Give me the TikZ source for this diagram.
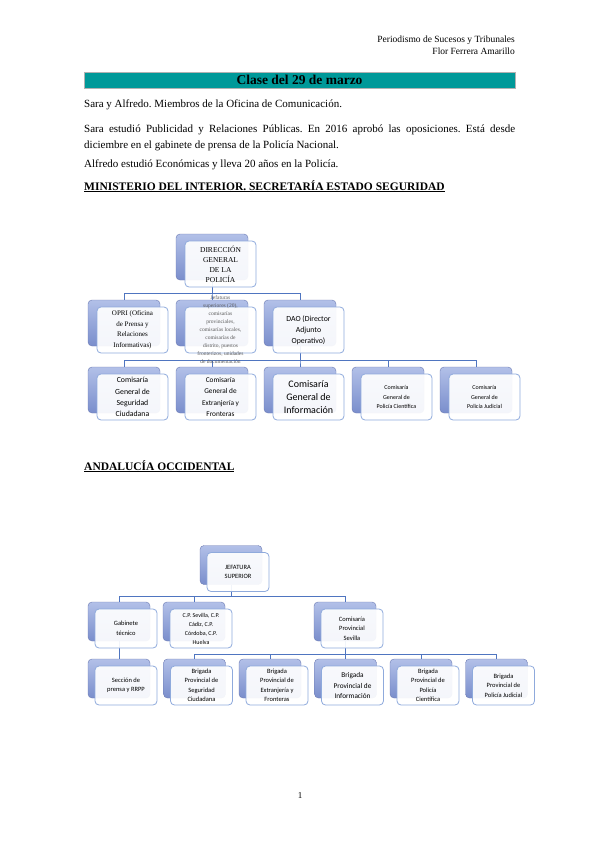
\documentclass[tikz,border=0pt]{standalone}
\usepackage{fontspec}
\setmainfont{Liberation Serif}
\newfontfamily\boxfont{Carlito}
\usepackage{xcolor}
\usepackage{tikz}
\usetikzlibrary{positioning, calc, backgrounds}
\frenchspacing
\definecolor{titleteal}{RGB}{0,153,153}
\definecolor{linkblue}{RGB}{79,117,192}
\definecolor{backtop}{RGB}{178,192,232}
\definecolor{backbot}{RGB}{122,142,204}
\definecolor{backedge}{RGB}{108,122,178}
\definecolor{frontedge}{RGB}{143,170,220}
\tikzstyle{backbox} = [draw=backedge, top color=backtop, bottom color=backbot, rounded corners=4pt, inner sep=0pt]
\tikzstyle{bigback} = [backbox, minimum width=72pt, minimum height=46pt]
\tikzstyle{smallback} = [backbox, minimum width=62pt, minimum height=39pt]
\tikzstyle{frontbox} = [draw=frontedge, line width=0.8pt, fill=white, fill opacity=0.92, text opacity=1, rounded corners=4pt, inner sep=1pt, align=center]
\tikzstyle{bigfront} = [frontbox, minimum width=71pt, minimum height=46pt, xshift=8.5pt, yshift=-7pt]
\tikzstyle{smallfront} = [frontbox, minimum width=62pt, minimum height=39pt, xshift=7pt, yshift=-7pt]
\tikzstyle{link} = [draw=linkblue, line width=0.8pt]
\tikzstyle{bodyline} = [anchor=base west, inner sep=0pt, font=\fontsize{11}{13}\selectfont]
\tikzstyle{heading} = [anchor=base west, inner sep=0pt, font=\fontsize{11.5}{13}\selectfont\bfseries]

\begin{document}
\begin{tikzpicture}[x=1pt, y=-1pt]
\useasboundingbox (0,0) rectangle (599,848);

% Header
\node[anchor=base east, inner sep=0pt, font=\fontsize{9.5}{11}\selectfont] (course) at (515,43) {Periodismo de Sucesos y Tribunales};
\node[anchor=base east, inner sep=0pt, font=\fontsize{9.5}{11}\selectfont] (author) at (515,55) {Flor Ferrera Amarillo};

% Title bar
\draw[fill=titleteal, draw=gray!60] (84,72) rectangle (515,88);
\node[font=\fontsize{13.5}{15}\selectfont\bfseries] (title) at (299.5,80) {Clase del 29 de marzo};

% Text
\node[bodyline] (line1) at (84,107.5) {Sara y Alfredo. Miembros de la Oficina de Comunicación.};
\node[bodyline] (line2) at (84,132.5) {\makebox[431pt][s]{Sara estudió Publicidad y Relaciones Públicas. En 2016 aprobó las oposiciones. Está desde}};
\node[bodyline] (line3) at (84,148.5) {diciembre en el gabinete de prensa de la Policía Nacional.};
\node[bodyline] (line4) at (84,167.5) {Alfredo estudió Económicas y lleva 20 años en la Policía.};
\node[heading] (head1) at (84,190) {\underline{MINISTERIO DEL INTERIOR. SECRETARÍA ESTADO SEGURIDAD}};

% Chart 1, back boxes
\node[bigback] (dgpb) at (212,257) {};
\node[bigback] (oprib) at (124,323) {};
\node[bigback] (jefb) at (212,323) {};
\node[bigback] (daob) at (300,323) {};
\node[bigback] (segb) at (124,390) {};
\node[bigback] (extb) at (212,390) {};
\node[bigback] (infb) at (300,390) {};
\node[bigback] (cieb) at (388,390) {};
\node[bigback] (judb) at (476,390) {};

% Chart 1, front boxes
\node[bigfront, font=\fontsize{7.5}{10}\selectfont] (dgp) at (dgpb) {DIRECCIÓN\\GENERAL\\DE LA\\POLICÍA};
\node[bigfront, font=\fontsize{7}{10.5}\selectfont] (opri) at (oprib) {OPRI (Oficina\\de Prensa y\\Relaciones\\Informativas)};
\node[bigfront] (jef) at (jefb) {};
\node[align=center, text=gray!70!black, font=\fontsize{5.5}{8}\selectfont] (jeftext) at (jef) {Jefaturas\\superiores (20),\\comisarías\\provinciales,\\comisarías locales,\\comisarías de\\distrito, puestos\\fronterizos, unidades\\de documentación};
\node[bigfront, font=\boxfont\fontsize{7.8}{11}\selectfont] (dao) at (daob) {DAO (Director\\Adjunto\\Operativo)};
\node[bigfront, font=\boxfont\fontsize{7.8}{11.3}\selectfont] (seg) at (segb) {Comisaría\\General de\\Seguridad\\Ciudadana};
\node[bigfront, font=\boxfont\fontsize{7.3}{11.3}\selectfont] (ext) at (extb) {Comisaría\\General de\\Extranjería y\\Fronteras};
\node[bigfront, font=\boxfont\fontsize{10}{13}\selectfont] (inf) at (infb) {Comisaría\\General de\\Información};
\node[bigfront, font=\boxfont\fontsize{6}{9.5}\selectfont] (cie) at (cieb) {Comisaría\\General de\\Policía Científica};
\node[bigfront, font=\boxfont\fontsize{6}{9.5}\selectfont] (jud) at (judb) {Comisaría\\General de\\Policía Judicial};

% Chart 1, connectors
\begin{scope}[on background layer]
\foreach \c in {oprib, jefb, daob}
  \draw[link] (dgpb.south) -- ++(0,13) -| (\c.north);
\foreach \c in {segb, extb, infb, cieb, judb}
  \draw[link] (daob.south) -- ++(0,14) -| (\c.north);
\end{scope}

% Second heading
\node[heading] (head2) at (84,470) {\underline{ANDALUCÍA OCCIDENTAL}};

% Chart 2, back boxes
\node[smallback] (jsb) at (231,565) {};
\node[smallback] (gabb) at (119,621.5) {};
\node[smallback] (cpb) at (194,621.5) {};
\node[smallback] (cpsb) at (345,621.5) {};
\node[smallback] (secb) at (119,678.5) {};
\node[smallback] (bsegb) at (194.5,678.5) {};
\node[smallback] (bextb) at (270,678.5) {};
\node[smallback] (binfb) at (345.5,678.5) {};
\node[smallback] (bcieb) at (421,678.5) {};
\node[smallback] (bjudb) at (496.5,678.5) {};

% Chart 2, front boxes
\begin{scope}[font=\boxfont\fontsize{6.5}{9.5}\selectfont]
\node[smallfront] (js) at (jsb) {JEFATURA\\SUPERIOR};
\node[smallfront] (gab) at (gabb) {Gabinete\\técnico};
\node[smallfront, font=\boxfont\fontsize{6}{9}\selectfont] (cp) at (cpb) {C.P. Sevilla, C.P.\\Cádiz, C.P.\\Córdoba, C.P.\\Huelva};
\node[smallfront] (cps) at (cpsb) {Comisaría\\Provincial\\Sevilla};
\node[smallfront] (sec) at (secb) {Sección de\\prensa y RRPP};
\node[smallfront] (bseg) at (bsegb) {Brigada\\Provincial de\\Seguridad\\Ciudadana};
\node[smallfront] (bext) at (bextb) {Brigada\\Provincial de\\Extranjería y\\Fronteras};
\node[smallfront, font=\boxfont\fontsize{7.3}{10.5}\selectfont] (binf) at (binfb) {Brigada\\Provincial de\\Información};
\node[smallfront] (bcie) at (bcieb) {Brigada\\Provincial de\\Policía\\Científica};
\node[smallfront] (bjud) at (bjudb) {Brigada\\Provincial de\\Policía Judicial};
\end{scope}

% Chart 2, connectors
\begin{scope}[on background layer]
\foreach \c in {gabb, cpb, cpsb}
  \draw[link] (jsb.south) -- ++(0,11.5) -| (\c.north);
\draw[link] (gabb.south) -- (secb.north);
\foreach \c in {bsegb, bextb, binfb, bcieb, bjudb}
  \draw[link] (cpsb.south) -- ++(0,13) -| (\c.north);
\end{scope}

% Page number
\node[font=\fontsize{9}{10}\selectfont] (page) at (300,796) {1};
\end{tikzpicture}
\end{document}
